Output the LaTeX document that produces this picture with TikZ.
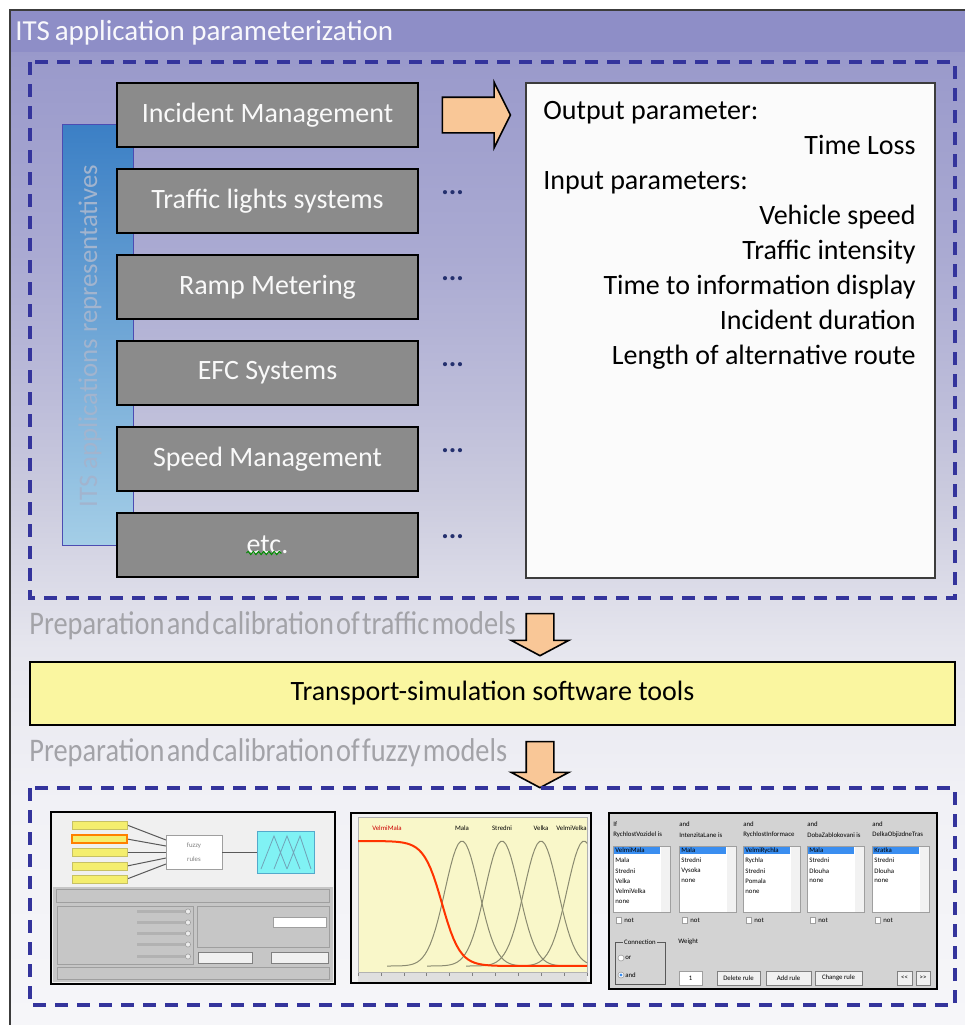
\documentclass[tikz,border=0pt]{standalone}
\usepackage{fontspec}
\setmainfont{Carlito}
\newfontfamily\narrowfont[FakeStretch=0.86,WordSpace=0.35]{Carlito}
\usetikzlibrary{positioning,calc,shapes.arrows,decorations.pathmorphing}

% background ramp, light at the bottom
\definecolor{bgA}{HTML}{F6F6F9}
\definecolor{bgB}{HTML}{F1F1F6}
\definecolor{bgC}{HTML}{E6E6EE}
\definecolor{bgD}{HTML}{DADAE7}
\definecolor{bgE}{HTML}{CBCBDE}
\definecolor{bgF}{HTML}{BCBCD9}
\definecolor{bgG}{HTML}{AAAAD2}
\definecolor{bgH}{HTML}{9A9ACB}
\definecolor{bgI}{HTML}{9595C8}
\pgfdeclareverticalshading{itsback}{100bp}{color(0bp)=(bgA); color(25bp)=(bgA);
  color(36bp)=(bgB); color(43.5bp)=(bgC); color(47bp)=(bgD); color(51bp)=(bgE);
  color(56bp)=(bgF); color(63bp)=(bgG); color(72.5bp)=(bgH); color(75bp)=(bgI); color(100bp)=(bgI)}

\definecolor{framegray}{HTML}{3C3C3C}
\definecolor{bandtop}{HTML}{8E8EC7}
\definecolor{dashblue}{HTML}{34349C}
\definecolor{appgray}{HTML}{8B8B8B}
\definecolor{peach}{HTML}{F9C797}
\definecolor{simyellow}{HTML}{FAF6A0}
\definecolor{prepgray}{HTML}{A3A3A8}
\definecolor{barlabel}{HTML}{A2B4CE}
\definecolor{bartop}{HTML}{3B7FC5}
\definecolor{barbot}{HTML}{A4CEE7}
\definecolor{navy}{HTML}{24306E}
\definecolor{winbg}{HTML}{D3D3D3}
\definecolor{listblue}{HTML}{3A8EF0}
\definecolor{inyellow}{HTML}{F4EE6E}
\definecolor{cyantile}{HTML}{80F2F4}
\definecolor{plotyellow}{HTML}{F9F7C9}
\definecolor{mfgray}{HTML}{8A8A70}

\tikzset{
  title/.style={font=\fontsize{14.5}{17}\selectfont, text=white!94!bandtop, inner sep=0pt},
  dashbox/.style={dashblue, line width=2pt, dash pattern=on 6.5pt off 4.5pt},
  appbox/.style={rectangle, draw=black, line width=1pt, fill=appgray, minimum width=150.5pt,
    minimum height=32pt, text=white!95!gray, font=\fontsize{14}{16}\selectfont},
  dots/.style={font=\bfseries\fontsize{14}{16}\selectfont, text=navy, inner sep=0pt},
  parambox/.style={rectangle, draw=framegray, line width=1pt, fill=white!97!gray,
    minimum width=204.5pt, minimum height=247.5pt},
  parline/.style={font=\fontsize{14}{16}\selectfont, inner sep=0pt},
  blockarrow/.style={single arrow, draw=black, line width=0.8pt, fill=peach, inner sep=8.5pt,
    single arrow head extend=7.5pt, single arrow tip angle=127},
  downarrow/.style={blockarrow, shape border rotate=270, inner sep=6.5pt,
    single arrow tip angle=124},
  prep/.style={font=\narrowfont\fontsize{16.5}{18}\selectfont, text=prepgray, inner sep=0pt},
  simbox/.style={rectangle, draw=black, line width=1pt, fill=simyellow, minimum width=462.5pt,
    minimum height=31.5pt, font=\fontsize{14}{16}\selectfont},
  screen/.style={rectangle, draw=black, line width=1.2pt, fill=#1},
  tiny/.style={font=\fontsize{3.4}{4}\selectfont, inner sep=0pt},
  ridge/.style={draw=gray!75, line width=0.3pt},
  btn/.style={draw=gray, line width=0.3pt, fill=white!88!gray},
  wire/.style={gray!70!black, line width=0.5pt},
  squiggle/.style={green!55!black, line width=0.5pt,
    decorate, decoration={snake, segment length=2.6pt, amplitude=0.8pt}},
}

\begin{document}
\begin{tikzpicture}[x=0.5pt,y=-0.5pt]
\useasboundingbox (0,0) rectangle (965,1025);
\clip (0,0) rectangle (965,1025);

% frame, background and heading
\fill[white] (0,0) rectangle (965,1025);
\shade[shading=itsback] (10,10) rectangle (965,1025);
\fill[bandtop] (10,10) rectangle (965,52);
\draw[framegray, line width=1pt] (10,1025) |- (965,10);
\node[title, anchor=west] (head) at (15,33) {ITS\,application parameterization};

% upper dashed area
\draw[dashbox] (30,62) rectangle (955,598);
\node[rectangle, draw=gray!60!blue, line width=0.4pt, top color=bartop, bottom color=barbot,
  minimum width=35.5pt, minimum height=210.5pt] (repbar) at (97.5,334.5) {};
\node[rotate=90, font=\fontsize{13.4}{15}\selectfont, text=barlabel] (replbl) at (90,336)
  {ITS applications representatives};

\foreach \app [count=\i] in {Incident Management, Traffic lights systems, Ramp Metering,
    EFC Systems, Speed Management, etc.}
  \node[appbox] (app\i) at (267.5,{29+86*\i}) {\app};
\foreach \i in {2,...,6}
  \node[dots, anchor=base west, xshift=11pt, yshift=3.5pt] (more\i) at (app\i.east) {...};
\draw[squiggle] ([xshift=-10.5pt, yshift=-4pt]app6.center) -- ([xshift=7pt, yshift=-4pt]app6.center);

\node[parambox] (params) at (730.5,330.5) {};
\node[blockarrow, minimum height=34pt] (toparams)
  at ($(app1.east)!.5!(app1.east -| params.west)$) {};

\node[parline, anchor=base west] (outlbl) at (543,119) {Output parameter:};
\node[parline, anchor=base east] (outval) at (916,154) {Time Loss};
\node[parline, anchor=base west] (inlbl) at (543,189) {Input parameters:};
\foreach \prm [count=\i] in {Vehicle speed, Traffic intensity, Time to information display,
    Incident duration, Length of alternative route}
  \node[parline, anchor=base east] (in\i) at (916,{189+35*\i}) {\prm};

% middle: simulation stage
\node[prep, anchor=west] (trafprep) at (29,626) {Preparation and calibration of traffic models};
\node[downarrow, minimum height=21pt] (tosim) at (540,631) {};
\node[simbox] (sim) at (492.5,693.5) {Transport-simulation software tools};
\node[prep, anchor=west] (fuzzyprep) at (29,753) {Preparation and calibration of fuzzy models};
\node[downarrow, minimum height=23pt] (tofuzzy) at (540,761) {};

% lower dashed area with the three tool windows
\draw[dashbox] (30,788) rectangle (955,1005);

% window 1: FIS editor
\node[screen=white!88!gray, minimum width=142pt, minimum height=86pt] (fisedit) at (193,898) {};
\fill[gray!45] (53,887) rectangle (333,982);
\foreach \y [count=\k] in {825,839,852,866,879} {
  \draw[wire] (127,\y) -- (166,{834+6*\k});
  \draw[fill=inyellow, draw=yellow!50!gray] (72,\y-4) rectangle (127,\y+4);
}
\draw[draw=orange, line width=0.8pt, fill=inyellow] (72,835) rectangle (127,843);
\draw[ridge, fill=white] (166,835) rectangle (222,869);
\node[tiny, text=gray] at (194,846) {fuzzy};
\node[tiny, text=gray] at (194,859) {rules};
\draw[wire] (222,852) -- (257,852);
\draw[fill=cyantile, draw=cyan!60!gray] (257,831) rectangle (314,873);
\draw[cyan!40!gray, line width=0.4pt] (261,869) -- (274,836) -- (287,869)
  (274,869) -- (287,836) -- (300,869) (287,869) -- (300,836) -- (311,869);
\draw[ridge] (56,889) rectangle (329,902);
\draw[ridge] (57,906) rectangle (193,964);
\draw[ridge] (197,906) rectangle (329,947);
\draw[btn] (198,952) rectangle (252,963);
\draw[btn] (271,952) rectangle (328,963);
\draw[ridge] (57,967) rectangle (329,979);
\foreach \y in {910,921,932,943,955} {
  \fill[gray!60] (137,\y) rectangle (186,\y+3);
  \draw[ridge, fill=white!85!gray] (188,\y+1.5) circle (1.3pt);
}
\draw[ridge, fill=white] (273,917) rectangle (326,927);

% window 2: membership functions
\node[screen=white!90!gray, minimum width=120pt, minimum height=85pt] (mfplot) at (471,898) {};
\draw[fill=plotyellow, draw=gray!60] (358,817) rectangle (587,972);
\begin{scope}
  \clip (358,817) rectangle (587,972);
  \foreach \c in {462,502,541,584}
    \draw[mfgray, line width=0.5pt] plot[domain=\c-75:\c+75, samples=60]
      (\x,{966-125*exp(-1*((\x-\c)^2)/578)});
  \draw[red!60!orange, line width=1pt] plot[domain=358:587, samples=80]
    (\x,{966-125/(1+exp(min((\x-442)/9,8)))});
\end{scope}
\fill[gray!25] (358,973) rectangle (587,982);
\foreach \t in {0,...,10}
  \draw[gray, line width=0.3pt] ({358+22.9*\t},973) -- ++(0,3);
\node[tiny, text=red!80!black] (mf1) at (387,828) {VelmiMala};
\foreach \c/\mf in {462/Mala, 502/Stredni, 541/Velka}
  \node[tiny] at (\c,828) {\mf};
\node[tiny, anchor=east] at (587,828) {VelmiVelka};

% window 3: rule editor
\node[screen=winbg, minimum width=164pt, minimum height=88pt] (ruleedit) at (773,901) {};
\foreach \x/\hd/\nm/\items in {
    613/If/RychlostVozidel is/{VelmiMala,Mala,Stredni,Velka,VelmiVelka,none},
    679/and/IntenzitaLane is/{Mala,Stredni,Vysoka,none},
    743/and/RychlostInformace/{VelmiRychla,Rychla,Stredni,Pomala,none},
    807/and/DobaZablokovani is/{Mala,Stredni,Dlouha,none},
    872/and/DelkaObjizdneTras/{Kratka,Stredni,Dlouha,none}} {
  \node[tiny, anchor=west] at (\x,824) {\hd};
  \node[tiny, anchor=west] at (\x,835) {\nm};
  \draw[ridge, fill=white] (\x,846) rectangle (\x+57,912);
  \fill[white!90!gray] (\x+48,846.5) rectangle (\x+56.5,911.5);
  \fill[listblue] (\x+1,847) rectangle (\x+47,854);
  \foreach \e [count=\k] in \items
    \node[tiny, anchor=west] at (\x+2,{840+10.3*\k}) {\e};
  \draw[ridge, fill=white] (\x+3,917) rectangle (\x+8,923);
  \node[tiny, anchor=west] at (\x+11,920) {not};
}
\draw[gray!70!black, line width=0.4pt] (615,942) rectangle (665,984);
\node[tiny, fill=winbg, inner sep=0.6pt] (conn) at (640,942) {Connection};
\draw[ridge, fill=white] (621,958) circle (1.5pt);
\node[tiny, anchor=west] at (625,958) {or};
\draw[ridge, fill=white] (621,975) circle (1.5pt);
\fill[listblue] (621,975) circle (0.8pt);
\node[tiny, anchor=west] at (625,975) {and};
\node[tiny, anchor=west] (wlbl) at (678,942) {Weight};
\draw[ridge, fill=white] (679,971) rectangle (702,985);
\node[tiny] at (690.5,978) {1};
\foreach \a/\b/\btxt in {717/760/Delete rule, 766/811/Add rule, 815/862/Change rule,
    897/912/<\kern0pt<, 916/930/>\kern0pt>} {
  \draw[btn] (\a,971) rectangle (\b,985);
  \node[tiny] at ({(\a+\b)/2},978) {\btxt};
}
\end{tikzpicture}
\end{document}
